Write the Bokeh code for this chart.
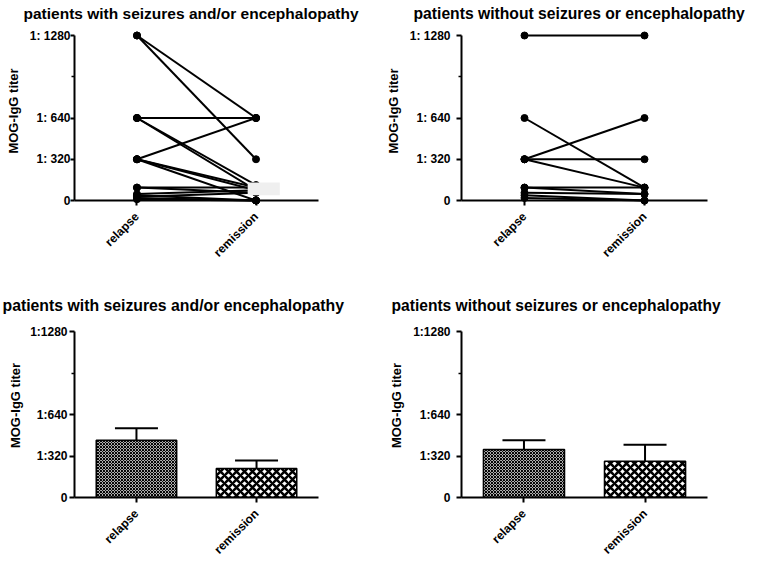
from math import pi
from bokeh.plotting import figure
from bokeh.layouts import gridplot
from bokeh.models import (FactorRange, Range1d, FixedTicker, Whisker, TeeHead,
                          ColumnDataSource, BoxAnnotation)
from bokeh.embed import file_html
from bokeh.resources import INLINE

# ---------------- data ----------------
categories = ["relapse", "remission"]
y_ticks = [0, 320, 640, 1280]
y_minor_ticks = [960]
y_max = 1280
top_tick_labels = {0: "0", 320: "1: 320", 640: "1: 640", 1280: "1: 1280"}
bottom_tick_labels = {0: "0", 320: "1:320", 640: "1:640", 1280: "1:1280"}
y_label = "MOG-IgG titer"
title_with = "patients with seizures and/or encephalopathy"
title_without = "patients without seizures or encephalopathy"

# paired titers (reciprocal) per patient, top-left panel
tl_relapse = [1280, 1280, 640, 640, 640, 320, 320, 320, 320, 100, 100, 50, 40, 30, 20, 10]
tl_remission = [640, 320, 640, 120, 80, 640, 100, 80, 0, 100, 60, 80, 0, 60, 0, 0]
# paired titers, top-right panel
tr_relapse = [1280, 640, 320, 320, 320, 100, 100, 60, 40, 20]
tr_remission = [1280, 100, 640, 320, 100, 100, 50, 50, 0, 0]

# bar charts: mean and SEM
bl_mean = [442, 224]
bl_sem = [92, 62]
br_mean = [370, 279]
br_sem = [72, 127]

# grey masking patch seen in the original top-left panel (titer range)
mask_bottom, mask_top = 40, 140

FONT = "Liberation Sans"
W, H = 382, 283


def base_fig(title, labels, pad, left, right, frame_top, axis_top, bottom, title_offset,
             title_size, tick_out, label_standoff, axis_label_standoff):
    # frame spans frame_top..(H-bottom); the value y_max sits at axis_top
    frame_px = (H - bottom) - frame_top
    axis_px = (H - bottom) - axis_top
    p = figure(width=W, height=H,
               x_range=FactorRange(*categories, range_padding=pad),
               y_range=Range1d(0, y_max * frame_px / axis_px),
               output_backend="svg", toolbar_location=None,
               min_border_left=left, min_border_right=right,
               min_border_top=frame_top, min_border_bottom=bottom,
               title=title)
    p.outline_line_color = None
    p.grid.visible = False
    p.background_fill_color = "white"
    p.title.text_font = FONT
    p.title.text_font_size = title_size
    p.title.text_font_style = "bold"
    p.title.text_color = "black"
    p.title.align = "left"
    p.title.offset = title_offset
    p.title.standoff = 0
    for ax in (p.xaxis[0], p.yaxis[0]):
        ax.axis_line_width = 2
        ax.axis_line_color = "black"
        ax.major_tick_line_width = 2
        ax.major_tick_in = 0
        ax.major_tick_out = 5
        ax.major_label_text_font = FONT
        ax.major_label_text_font_style = "bold"
        ax.major_label_text_font_size = "12px"
        ax.major_label_text_color = "black"
        ax.axis_label_text_font = FONT
        ax.axis_label_text_font_style = "bold"
        ax.axis_label_text_font_size = "13px"
        ax.axis_label_text_color = "black"
    ax = p.yaxis[0]
    ax.bounds = (0, y_max)
    ax.ticker = FixedTicker(ticks=y_ticks, minor_ticks=y_minor_ticks)
    ax.major_label_overrides = labels
    ax.major_tick_out = tick_out
    ax.minor_tick_in = 0
    ax.minor_tick_out = 3
    ax.minor_tick_line_width = 1.5
    ax.minor_tick_line_color = "black"
    ax.major_label_standoff = label_standoff
    ax.axis_label = y_label
    ax.axis_label_standoff = axis_label_standoff
    xa = p.xaxis[0]
    xa.major_label_orientation = pi / 4
    xa.major_label_standoff = 9
    return p


def paired(p, rel, rem):
    n = len(rel)
    src = ColumnDataSource(dict(x0=[categories[0]] * n, y0=rel,
                                x1=[categories[1]] * n, y1=rem))
    s = p.segment(x0="x0", y0="y0", x1="x1", y1="y1", source=src,
                  line_color="black", line_width=2)
    s.level = "overlay"
    a = p.scatter(x="x0", y="y0", source=src, size=7, color="black")
    b = p.scatter(x="x1", y="y1", source=src, size=7, color="black")
    a.level = "overlay"
    b.level = "overlay"


def bars(p, mean, sem, widths=0.67):
    src = ColumnDataSource(dict(x=categories, top=mean,
                                upper=[m + s for m, s in zip(mean, sem)]))
    w = Whisker(base="x", lower="top", upper="upper", source=src,
                line_width=2, line_color="black",
                upper_head=TeeHead(size=43, line_width=2, line_color="black"),
                lower_head=None)
    w.level = "underlay"
    p.add_layout(w)
    for i, (pat, scale, weight) in enumerate([("x", 3, 1.2), ("x", 8, 2.5)]):
        sub = ColumnDataSource(dict(x=[categories[i]], top=[mean[i]]))
        p.vbar(x="x", top="top", bottom=0, width=widths, source=sub,
               fill_color="white", line_color="black", line_width=1.5,
               hatch_pattern=pat, hatch_scale=scale, hatch_weight=weight,
               hatch_color="black")


tl = base_fig(title_with, top_tick_labels, 0.025, 70, 64, 21, 35, 83, -51, "15.5px", 4, 0, 6)
paired(tl, tl_relapse, tl_remission)
mask = BoxAnnotation(left=1.43, right=1.70, bottom=mask_bottom, top=mask_top,
                     fill_color="#efefef", fill_alpha=1, line_alpha=0,
                     level="overlay")
tl.add_layout(mask)

tr = base_fig(title_without, top_tick_labels, 0.025, 77, 57, 21, 35, 83, -48, "15.7px", 5, 6, 6)
paired(tr, tr_relapse, tr_remission)

bl = base_fig(title_with, bottom_tick_labels, 0.016, 74, 57, 30, 48, 69, -72, "15.8px", 5, 2, 4)
bars(bl, bl_mean, bl_sem)

br = base_fig(title_without, bottom_tick_labels, 0.016, 77, 54, 30, 48, 69, -70, "15.6px", 5, 6, 6)
bars(br, br_mean, br_sem)

grid = gridplot([[tl, tr], [bl, br]], toolbar_location=None)

open("out.html", "w").write(file_html(grid, INLINE))
